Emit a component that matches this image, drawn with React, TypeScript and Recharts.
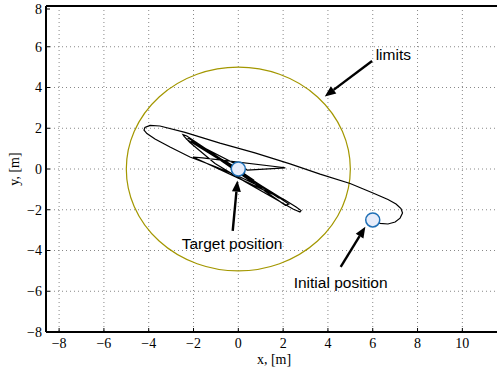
import React from "react";
import {
  ComposedChart,
  Line,
  Scatter,
  XAxis,
  YAxis,
  CartesianGrid,
  ReferenceArea,
  ReferenceLine,
  ReferenceDot,
  Label,
} from "recharts";

const xTicks = [-8, -6, -4, -2, 0, 2, 4, 6, 8, 10];
const yTicks = [-8, -6, -4, -2, 0, 2, 4, 6, 8];
const xDomain: [number, number] = [-8.585, 11.77];
const yDomain: [number, number] = [-8, 8];
const limitRadius = 5;

// robot path: [x, y] in metres
const trajectory: [number, number][] = [
  [6.0, -2.5], [6.33, -2.67], [6.68, -2.7], [7.0, -2.6], [7.22, -2.41],
  [7.33, -2.16], [7.26, -1.94], [7.04, -1.72], [6.68, -1.5], [6.01, -1.18],
  [4.99, -0.71], [3.65, -0.25], [2.31, 0.25], [0.74, 0.79], [-0.82, 1.27],
  [-2.38, 1.8], [-3.5, 2.11], [-3.94, 2.14], [-4.17, 2.04], [-4.21, 1.91],
  [-4.08, 1.74], [-3.72, 1.47], [-3.05, 1.08], [-2.16, 0.59], [-1.04, 0.12],
  [0.08, -0.39], [1.19, -0.98], [2.08, -1.52], [2.58, -1.87], [2.8, -2.04],
  [2.75, -2.11], [2.44, -1.96], [1.42, -1.33], [0.3, -0.62], [-1.04, 0.27],
  [-2.16, 1.3], [-2.42, 1.6], [-2.47, 1.69], [-2.3, 1.62],
  [2.25, -1.72], [2.1, -1.78], [-2.2, 1.5], [-2.3, 1.45], [1.95, -1.45],
  [1.8, -1.42], [-2.1, 1.35], [-2.0, 1.28], [1.6, -1.25], [1.5, -1.22],
  [-2.02, 0.59], [-1.6, 0.55], [2.1, 0.06], [0.4, -0.05],
  [-1.9, 1.25], [1.5, -1.15], [-1.6, 1.0], [1.1, -0.9], [-1.2, 0.75],
  [0.7, -0.55], [-0.6, 0.4], [0.3, -0.2], [0, 0],
];

const markers = [
  { name: "target", x: 0, y: 0 },
  { name: "initial", x: 6, y: -2.5 },
];

const notes = [
  { text: "limits", tx: 6.13, ty: 5.64, from: [5.97, 5.3], to: [3.86, 3.56] },
  { text: "Target position", tx: -2.53, ty: -3.68, from: [-0.25, -3.04], to: [-0.04, -0.57] },
  { text: "Initial position", tx: 2.47, ty: -5.58, from: [4.57, -4.8], to: [5.67, -2.83] },
];

const pathData = trajectory.map(([x, y]) => ({ x, y }));

const fmt = (v: number) => (v < 0 ? `\u2212${-v}` : `${v}`);
const SERIF = "Liberation Serif";
const TICK_MARGIN = 6;
const INNER_TICK = 4;

function renderXTick(p: any) {
  const { x, y, payload } = p;
  const axisY = y - TICK_MARGIN;
  return (
    <g key={`xt-${payload.value}`}>
      <line x1={x} y1={axisY} x2={x} y2={axisY - INNER_TICK} stroke="#000" strokeWidth={1} />
      <text
        x={x}
        y={y}
        dy="0.71em"
        textAnchor="middle"
        style={{ fontFamily: SERIF, fontSize: 14, fill: "#000" }}
      >
        {fmt(payload.value)}
      </text>
    </g>
  );
}

function renderYTick(p: any) {
  const { x, y, payload } = p;
  const axisX = x + 4;
  return (
    <g key={`yt-${payload.value}`}>
      <line x1={axisX} y1={y} x2={axisX + INNER_TICK} y2={y} stroke="#000" strokeWidth={1} />
      <text
        x={x}
        y={y}
        dy="0.355em"
        textAnchor="end"
        style={{ fontFamily: SERIF, fontSize: 14, fill: "#000" }}
      >
        {fmt(payload.value)}
      </text>
    </g>
  );
}

function Arrow(p: any) {
  const { x1, y1, x2, y2 } = p;
  const dx = x2 - x1;
  const dy = y2 - y1;
  const len = Math.hypot(dx, dy) || 1;
  const ux = dx / len;
  const uy = dy / len;
  const head = 11;
  const half = 4.5;
  const bx = x2 - ux * head;
  const by = y2 - uy * head;
  return (
    <g>
      <line x1={x1} y1={y1} x2={bx} y2={by} stroke="#000" strokeWidth={2.4} />
      <polygon
        points={`${x2},${y2} ${bx - uy * half},${by + ux * half} ${bx + uy * half},${by - ux * half}`}
        fill="#000"
      />
    </g>
  );
}

export default function App() {
  return (
    <div
      style={{
        position: "absolute",
        left: 0,
        top: 0,
        width: 497,
        height: 370,
        overflow: "hidden",
        background: "#fff",
      }}
    >
      <ComposedChart
        width={502}
        height={370}
        margin={{ top: 6, right: 0, bottom: 0, left: 0 }}
      >
        <CartesianGrid stroke="#888" strokeDasharray="1 3" />
        <XAxis
          type="number"
          dataKey="x"
          domain={xDomain}
          ticks={xTicks}
          allowDataOverflow
          height={38}
          tickLine={false}
          tickSize={0}
          tickMargin={TICK_MARGIN}
          tick={renderXTick}
          axisLine={{ stroke: "#000", strokeWidth: 2 }}
        >
          <Label
            content={(props: any) => {
              const vb = props.viewBox || {};
              return (
                <text
                  x={vb.x + vb.width / 2}
                  y={359}
                  textAnchor="middle"
                  dominantBaseline="central"
                  style={{ fontFamily: SERIF, fontSize: 14, fill: "#000" }}
                >
                  x, [m]
                </text>
              );
            }}
          />
        </XAxis>
        <YAxis
          type="number"
          dataKey="y"
          domain={yDomain}
          ticks={yTicks}
          allowDataOverflow
          width={46}
          tickLine={false}
          tickSize={0}
          tickMargin={4}
          tick={renderYTick}
          axisLine={{ stroke: "#000", strokeWidth: 2 }}
        >
          <Label
            content={(props: any) => {
              const vb = props.viewBox || {};
              const cy = vb.y + vb.height / 2;
              return (
                <text
                  x={14}
                  y={cy}
                  textAnchor="middle"
                  dominantBaseline="central"
                  transform={`rotate(-90 14 ${cy})`}
                  style={{ fontFamily: SERIF, fontSize: 14, fill: "#000" }}
                >
                  y, [m]
                </text>
              );
            }}
          />
        </YAxis>
        <ReferenceLine y={8} stroke="#000" strokeWidth={2} />
        <ReferenceArea
          x1={-limitRadius}
          x2={limitRadius}
          y1={-limitRadius}
          y2={limitRadius}
          shape={(p: any) => (
            <ellipse
              cx={p.x + p.width / 2}
              cy={p.y + p.height / 2}
              rx={Math.abs(p.width) / 2}
              ry={Math.abs(p.height) / 2}
              fill="none"
              stroke="#a39700"
              strokeWidth={1.2}
            />
          )}
        />
        <Line
          data={pathData}
          dataKey="y"
          type="linear"
          stroke="#000"
          strokeWidth={1.2}
          dot={false}
          isAnimationActive={false}
        />
        {notes.map((n) => (
          <ReferenceLine
            key={n.text + "-arrow"}
            segment={[
              { x: n.from[0], y: n.from[1] },
              { x: n.to[0], y: n.to[1] },
            ]}
            shape={Arrow}
          />
        ))}
        {notes.map((n) => (
          <ReferenceDot
            key={n.text}
            x={n.tx}
            y={n.ty}
            r={0}
            shape={(p: any) => (
              <text
                x={p.cx}
                y={p.cy}
                dy="0.35em"
                textAnchor="start"
                style={{ fontFamily: "Liberation Sans", fontSize: 15.5, fill: "#000" }}
              >
                {n.text}
              </text>
            )}
          />
        ))}
        <Scatter
          data={markers}
          dataKey="y"
          fill="#e6ecfa"
          stroke="#1f6fb5"
          strokeWidth={1.5}
          shape={(p: any) => (
            <circle cx={p.cx} cy={p.cy} r={7} fill="#e6ecfa" stroke="#1f6fb5" strokeWidth={1.5} />
          )}
          isAnimationActive={false}
        />
      </ComposedChart>
    </div>
  );
}
